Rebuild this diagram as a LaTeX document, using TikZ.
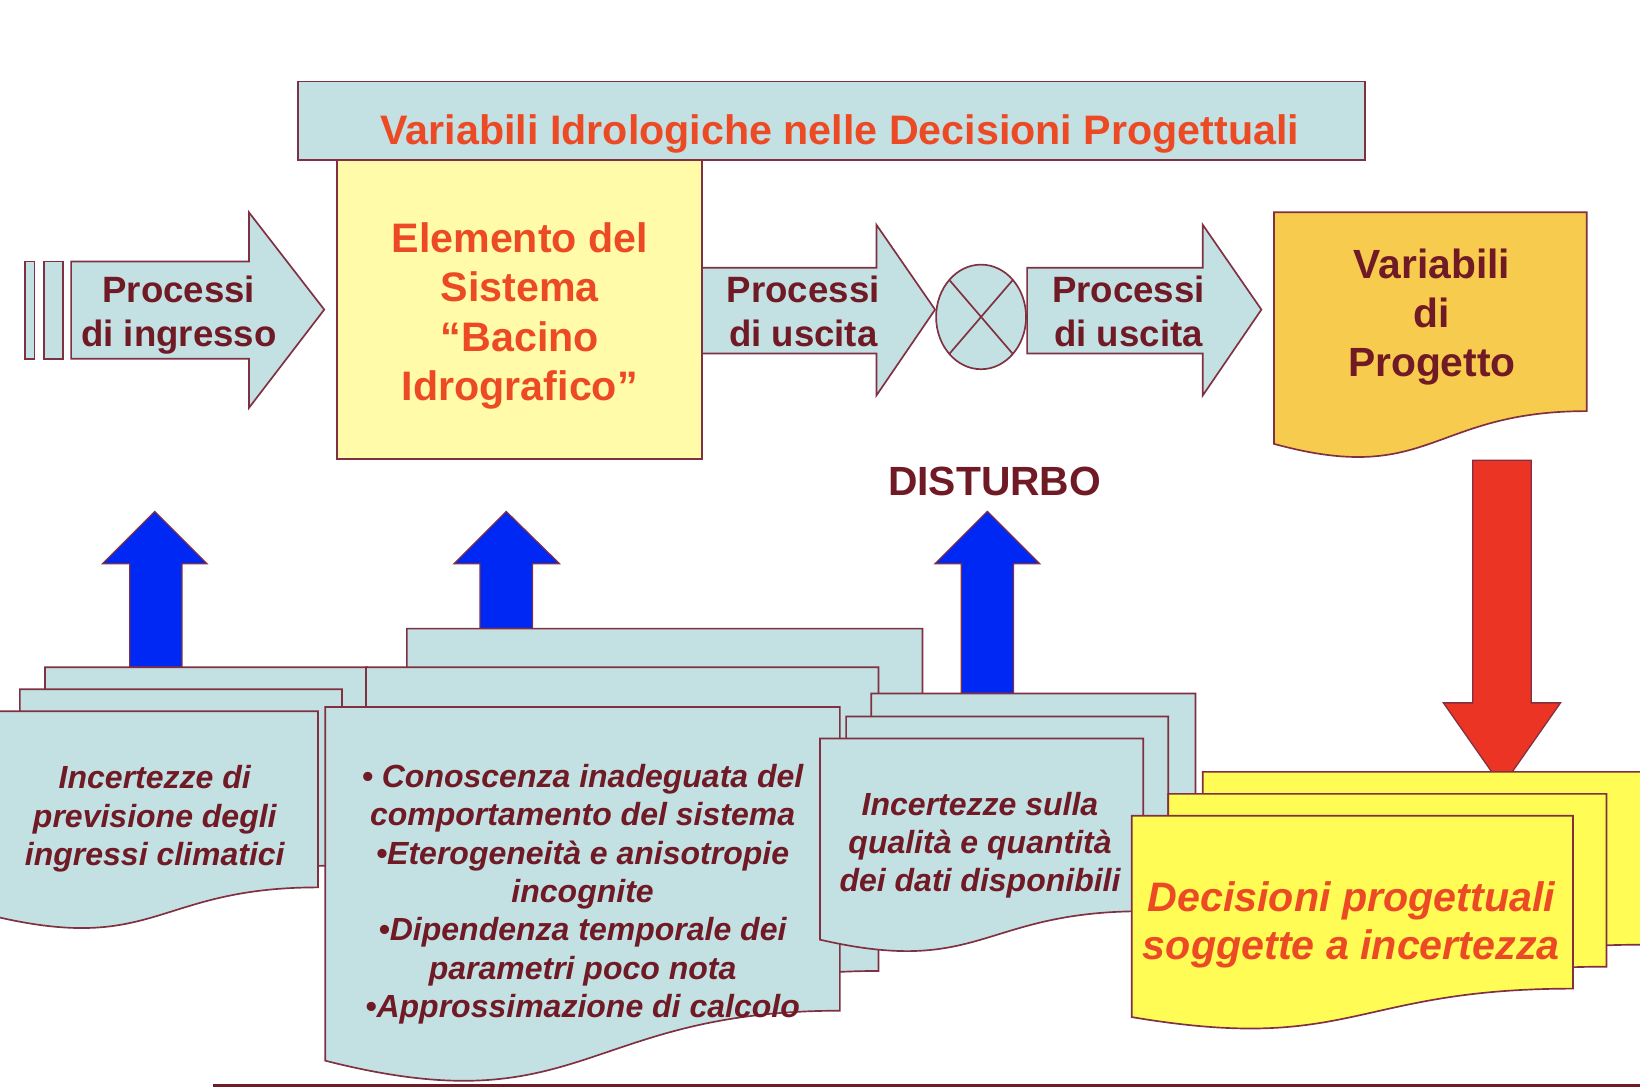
\documentclass[tikz,border=0pt]{standalone}
\usepackage{fontspec}
\setmainfont{Liberation Sans}
\definecolor{lblue}{RGB}{195,224,226}
\definecolor{bord}{RGB}{128,48,64}
\definecolor{dtext}{RGB}{112,26,38}
\definecolor{otext}{RGB}{236,74,36}
\definecolor{lyell}{RGB}{255,251,168}
\definecolor{gold}{RGB}{247,203,77}
\definecolor{byell}{RGB}{255,252,85}
\definecolor{ablue}{RGB}{0,40,245}
\definecolor{ared}{RGB}{235,52,35}
\newcommand\docshape[5]{%
 \pgfmathsetmacro\dxa{#2+#4}\pgfmathsetmacro\dxm{#2+0.5*#4}%
 \pgfmathsetmacro\dya{#3+0.802*#5}\pgfmathsetmacro\dyb{#3+1.107*#5}\pgfmathsetmacro\dyc{#3+0.934*#5}%
 \filldraw[shp,fill=#1] (#2,#3) -- (\dxa,#3) -- (\dxa,\dya) .. controls (\dxm,\dya) and (\dxm,\dyb) .. (#2,\dyc) -- cycle;}
\begin{document}
\begin{tikzpicture}[x=0.5pt,y=-0.5pt,
  shp/.style={draw=bord,line width=0.8pt,line join=miter},
  boldtxt/.style={align=center,inner sep=0pt,font=\bfseries},
  itxt/.style={align=center,inner sep=0pt,text=dtext,font=\fontsize{15.3}{18.3}\selectfont\bfseries\itshape}]
\useasboundingbox[fill=white] (0,0) rectangle (1568,1040);
% title
\filldraw[shp,fill=lblue] (285,78) rectangle (1305,153);
\node[boldtxt,text=otext,font=\fontsize{19.7}{23}\selectfont\bfseries] (title) at (803,128) {Variabili Idrologiche nelle Decisioni Progettuali};
% input arrow
\filldraw[shp,fill=lblue] (24,250) rectangle (33,343);
\filldraw[shp,fill=lblue] (42,250) rectangle (60,343);
\filldraw[shp,fill=lblue] (68,250) -- (238,250) -- (238,203) -- (310,296) -- (238,390) -- (238,343) -- (68,343) -- cycle;
\node[boldtxt,text=dtext,font=\fontsize{17.5}{21}\selectfont\bfseries] (pin) at (171,301) {Processi\\di ingresso};
% output arrows
\filldraw[shp,fill=lblue] (671,256) -- (838,256) -- (838,215) -- (894,296) -- (838,378) -- (838,338) -- (671,338) -- cycle;
\node[boldtxt,text=dtext,font=\fontsize{17.5}{21}\selectfont\bfseries] (pout1) at (768,298) {Processi\\di uscita};
\filldraw[shp,fill=lblue] (982,256) -- (1150,256) -- (1150,215) -- (1206,296) -- (1150,378) -- (1150,338) -- (982,338) -- cycle;
\node[boldtxt,text=dtext,font=\fontsize{17.5}{21}\selectfont\bfseries] (pout2) at (1079,298) {Processi\\di uscita};
% system box
\filldraw[shp,fill=lyell] (322,153) rectangle (671,439);
\node[boldtxt,text=otext,font=\fontsize{19.7}{23.5}\selectfont\bfseries] (sys) at (497,302) {Elemento del\\Sistema\\“Bacino\\Idrografico”};
% disturbance junction
\filldraw[shp,fill=lblue] (938,303) ellipse [x radius=43,y radius=50];
\draw[shp] (907.6,267.6) -- (968.4,338.4) (968.4,267.6) -- (907.6,338.4);
% design variables
\docshape{gold}{1218}{203}{299}{237}
\node[boldtxt,text=dtext,font=\fontsize{19.5}{23.5}\selectfont\bfseries] (var) at (1369,303) {Variabili\\di\\Progetto};
\node[boldtxt,text=dtext,font=\fontsize{19.5}{23}\selectfont\bfseries] (dist) at (951,460) {DISTURBO};
% arrows up / down
\filldraw[shp,line width=0.6pt,fill=ablue] (124,638) -- (124,539) -- (98,539) -- (148,489) -- (198,539) -- (174,539) -- (174,638) -- cycle;
\filldraw[shp,line width=0.6pt,fill=ablue] (459,601) -- (459,539) -- (434,539) -- (484,489) -- (535,539) -- (509,539) -- (509,601) -- cycle;
\filldraw[shp,line width=0.6pt,fill=ablue] (919,663) -- (919,539) -- (894,539) -- (944,489) -- (994,539) -- (969,539) -- (969,663) -- cycle;
\filldraw[shp,line width=0.6pt,fill=ared] (1408,440) -- (1464,440) -- (1464,672) -- (1492,672) -- (1436,752) -- (1380,672) -- (1408,672) -- cycle;
% group 1
\docshape{lblue}{43}{638}{308}{210}
\docshape{lblue}{19}{659}{308}{210}
\docshape{lblue}{-5}{680}{309}{210}
\node[itxt] (g1) at (148,783) {Incertezze di\\previsione degli\\ingressi climatici};
% group 2
\docshape{lblue}{389}{601}{493}{362}
\docshape{lblue}{350}{638}{490}{362}
\docshape{lblue}{311}{676}{492}{362}
\node[itxt] (g2) at (557,855) {• Conoscenza inadeguata del\\comportamento del sistema\\•Eterogeneità e anisotropie\\incognite\\•Dipendenza temporale dei\\parametri poco nota\\•Approssimazione di calcolo};
% group 3
\docshape{lblue}{833}{663}{310}{206}
\docshape{lblue}{809}{685}{308}{206}
\docshape{lblue}{784}{706}{309}{206}
\node[itxt] (g3) at (937,808) {Incertezze sulla\\qualità e quantità\\dei dati disponibili};
% group 4
\docshape{byell}{1150}{738}{420}{206}
\docshape{byell}{1117}{759}{419}{206}
\docshape{byell}{1082}{780}{422}{206}
\node[align=center,inner sep=0pt,text=otext,font=\fontsize{19.7}{23}\selectfont\bfseries\itshape] (g4) at (1292,884) {Decisioni progettuali\\soggette a incertezza};
% bottom rule
\coordinate (r1) at (204,1038);
\coordinate (r2) at (1568,1038);
\draw[draw=dtext,line width=1.6pt] (r1) -- (r2);
\end{tikzpicture}
\end{document}
